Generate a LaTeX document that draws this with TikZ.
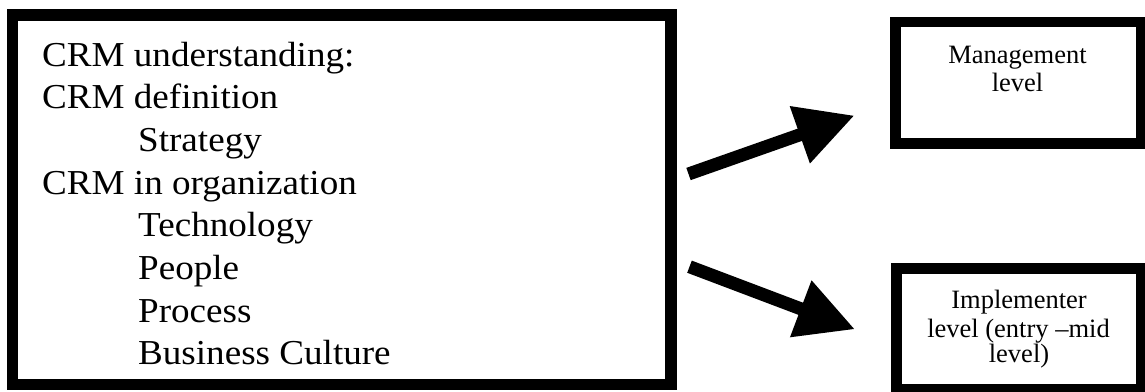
\documentclass[tikz,border=0pt]{standalone}
\usepackage{fontspec}
\setmainfont{Liberation Serif}
\usetikzlibrary{arrows.meta}
\newcommand\bigfont{\fontsize{35}{40}\selectfont}
\newcommand\smallfont{\fontsize{26.5}{29}\selectfont}
\newcommand\stretchx[1]{\scalebox{1.06}[1]{#1}}
\begin{document}
\begin{tikzpicture}[x=1pt,y=-1pt,
  frame/.style={draw=black, inner sep=0pt, outer sep=0pt},
  bigline/.style={anchor=base west, inner sep=0pt, font=\bigfont},
  smallline/.style={anchor=base, inner sep=0pt, font=\smallfont},
  bigarrow/.style={draw=black, line width=13pt, -{Triangle[length=58pt,width=57pt]}}]
\useasboundingbox (0,0) rectangle (1145,391);
\fill[white] (0,0) rectangle (1145,391);
% left box
\node[frame, line width=11.5pt, minimum width=658.5pt, minimum height=369.5pt] (big) at (341.75,199.75) {};
\node[bigline] (l1) at (42,66) {\stretchx{CRM understanding:}};
\node[bigline] (l2) at (42,108.7) {\stretchx{CRM definition}};
\node[bigline] (l3) at (138,151.4) {\stretchx{Strategy}};
\node[bigline] (l4) at (42,194.1) {\stretchx{CRM in organization}};
\node[bigline] (l5) at (138,236.8) {\stretchx{Technology}};
\node[bigline] (l6) at (138,279.5) {\stretchx{People}};
\node[bigline] (l7) at (138,322.2) {\stretchx{Process}};
\node[bigline] (l8) at (138,364.9) {\stretchx{Business Culture}};
% right boxes
\node[frame, line width=10.5pt, minimum width=245.7pt, minimum height=121.5pt] (mgmt) at (1018.15,82.75) {};
\node[smallline] (m1) at (1017.5,63.3) {Management};
\node[smallline] (m2) at (1017.5,91.7) {level};
\node[frame, line width=11pt, minimum width=245.5pt, minimum height=121pt] (impl) at (1018.75,328.5) {};
\node[smallline] (i1) at (1019,308.3) {Implementer};
\node[smallline] (i2) at (1018.5,337.3) {level (entry –mid};
\node[smallline] (i3) at (1019,362.5) {level)};
% arrows
\coordinate (u0) at (688.5,174);
\coordinate (u1) at (854.5,115.5);
\coordinate (d0) at (689.5,266.7);
\coordinate (d1) at (855,329.3);
\draw[bigarrow] (u0) -- (u1);
\draw[bigarrow] (d0) -- (d1);
\end{tikzpicture}
\end{document}
